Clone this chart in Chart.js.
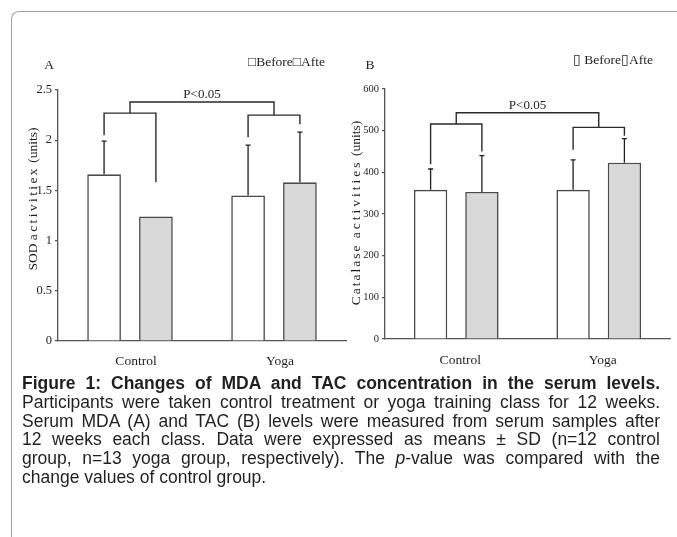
<!DOCTYPE html>
<html>
<head>
<meta charset="utf-8">
<script src="https://cdn.jsdelivr.net/npm/chart.js@4.4.1/dist/chart.umd.min.js"></script>
<style>
  html, body { margin: 0; padding: 0; background: #fff; }
  body { width: 677px; height: 537px; position: relative; overflow: hidden; }
  .frame {
    position: absolute; left: 11px; top: 11px; width: 720px; height: 580px;
    border-top: 1.5px solid #a0a0a0; border-left: 1.5px solid #a0a0a0;
    border-top-left-radius: 8px;
  }
  .panel { position: absolute; top: 40px; height: 335px; }
  #panelA { left: 0; width: 350px; }
  #panelB { left: 345px; width: 332px; }
  .caption {
    position: absolute; left: 22px; top: 374px; width: 638px;
    font-family: "Liberation Sans", Arial, sans-serif; font-size: 17.5px;
    line-height: 18.8px; color: #231f20;
  }
  .caption div { text-align: justify; text-align-last: justify; }
  .caption div.last { text-align-last: left; }
  .caption b { font-weight: bold; }
</style>
</head>
<body>
<div class="frame"></div>
<div class="panel" id="panelA"><canvas id="chartA"></canvas></div>
<div class="panel" id="panelB"><canvas id="chartB"></canvas></div>
<div class="caption">
  <div><b>Figure 1: Changes of MDA and TAC concentration in the serum levels.</b></div>
  <div>Participants were taken control treatment or yoga training class for 12 weeks.</div>
  <div>Serum MDA (A) and TAC (B) levels were measured from serum samples after</div>
  <div>12 weeks each class. Data were expressed as means ± SD (n=12 control</div>
  <div>group, n=13 yoga group, respectively). The <i>p</i>-value was compared with the</div>
  <div class="last">change values of control group.</div>
</div>
<script>
// Groups and series
const groups = ['Control', 'Yoga'];
const seriesNames = ['Before', 'After'];

// Panel A: SOD activity (units), means and upper SD
const sodBefore = [1.66, 1.45];
const sodAfter = [1.24, 1.58];
const sodBeforeSD = [0.33, 0.50];
const sodAfterSD = [null, 0.50];
const sodTicks = [0, 0.5, 1, 1.5, 2, 2.5];
// significance brackets: per-group bar level, leg ends (before, after), top link
const sodPairLevels = [2.27, 2.25];
const sodPairLegEnds = [[2.05, 1.58], [2.03, 2.16]];
const sodTopLevel = 2.38;

// Panel B: catalase activity (units), means and upper SD
const catBefore = [358, 358];
const catAfter = [353, 423];
const catBeforeSD = [50, 72];
const catAfterSD = [87, 58];
const catTicks = [0, 100, 200, 300, 400, 500, 600];
const catPairLevels = [516, 508];
const catPairLegEnds = [[420, 450], [454, 488]];
const catTopLevel = 543;

const SERIF = '"Liberation Serif", "Times New Roman", serif';
const INK = '#1f1f1f';
const AXIS = '#555';

// draws a rotated title made of runs, each with its own letter spacing
function drawSpacedRuns(ctx, runs) {
  const hasLS = 'letterSpacing' in ctx;
  const widths = runs.map(([t, ls]) => {
    if (hasLS) ctx.letterSpacing = ls + 'px';
    return ctx.measureText(t).width;
  });
  const total = widths.reduce((a, b) => a + b, 0);
  let x = -total / 2;
  ctx.textAlign = 'left';
  runs.forEach(([t, ls], i) => {
    if (hasLS) ctx.letterSpacing = ls + 'px';
    ctx.fillText(t, x, 0);
    x += widths[i];
  });
  if (hasLS) ctx.letterSpacing = '0px';
}

// Error bars, brackets and panel texts
const overlayPlugin = {
  id: 'overlay',
  afterDatasetsDraw(chart, args, o) {
    const ctx = chart.ctx;
    const ys = chart.scales.y;
    const area = chart.chartArea;
    const metas = [chart.getDatasetMeta(0), chart.getDatasetMeta(1)];
    ctx.save();

    // upper SD whiskers
    ctx.strokeStyle = INK;
    ctx.lineWidth = 1.3;
    chart.data.datasets.forEach((ds, di) => {
      ds.data.forEach((v, gi) => {
        const sd = ds.sd[gi];
        if (sd == null) return;
        const bar = metas[di].data[gi];
        const y0 = ys.getPixelForValue(v);
        const y1 = ys.getPixelForValue(v + sd);
        ctx.beginPath();
        ctx.moveTo(bar.x, y0); ctx.lineTo(bar.x, y1);
        ctx.moveTo(bar.x - 2.5, y1); ctx.lineTo(bar.x + 2.5, y1);
        ctx.stroke();
      });
    });

    // brackets
    ctx.strokeStyle = '#2a2a2a';
    ctx.lineWidth = 1.4;
    const mids = [];
    o.pairLevels.forEach((lvl, gi) => {
      const xl = metas[0].data[gi].x, xr = metas[1].data[gi].x;
      const yl = ys.getPixelForValue(lvl);
      ctx.beginPath();
      ctx.moveTo(xl, ys.getPixelForValue(o.legEnds[gi][0]));
      ctx.lineTo(xl, yl);
      ctx.lineTo(xr, yl);
      ctx.lineTo(xr, ys.getPixelForValue(o.legEnds[gi][1]));
      ctx.stroke();
      mids.push({ x: (xl + xr) / 2, y: yl });
    });
    const yt = ys.getPixelForValue(o.topLevel);
    ctx.beginPath();
    ctx.moveTo(mids[0].x, mids[0].y);
    ctx.lineTo(mids[0].x, yt);
    ctx.lineTo(mids[1].x, yt);
    ctx.lineTo(mids[1].x, mids[1].y);
    ctx.stroke();

    ctx.fillStyle = INK;
    ctx.font = '13px ' + SERIF;
    ctx.textAlign = 'center';
    ctx.textBaseline = 'alphabetic';
    ctx.fillText('P<0.05', (mids[0].x + mids[1].x) / 2, yt - 4);

    // panel letter
    ctx.font = '13.5px ' + SERIF;
    ctx.textAlign = 'center';
    ctx.textBaseline = 'middle';
    ctx.fillText(o.letter, area.left + o.letterDx, area.top + o.letterDy);

    // series key text
    ctx.textAlign = 'right';
    ctx.fillText(o.keyText, area.right + o.keyDx, area.top + o.keyDy);

    // vertical axis title
    ctx.translate(area.left + o.titleDx, (area.top + area.bottom) / 2 + o.titleDy);
    ctx.rotate(-Math.PI / 2);
    ctx.font = '13.5px ' + SERIF;
    drawSpacedRuns(ctx, o.titleRuns);
    ctx.restore();
  }
};

function makeChart(id, before, after, beforeSD, afterSD, ticks, tickFont, layout, overlay) {
  return new Chart(document.getElementById(id), {
    type: 'bar',
    data: {
      labels: groups,
      datasets: [
        { label: seriesNames[0], data: before, sd: beforeSD,
          backgroundColor: '#ffffff', borderColor: '#4a4a4a', borderWidth: 1.6 },
        { label: seriesNames[1], data: after, sd: afterSD,
          backgroundColor: '#d9d9d9', borderColor: '#4a4a4a', borderWidth: 1.6 }
      ]
    },
    options: {
      responsive: true,
      maintainAspectRatio: false,
      animation: false,
      devicePixelRatio: 1,
      categoryPercentage: 0.72,
      barPercentage: 0.65,
      layout: { padding: layout.padding },
      plugins: {
        legend: { display: false },
        tooltip: { enabled: false },
        overlay: overlay
      },
      scales: {
        x: {
          grid: { display: false },
          border: { display: true, color: AXIS, width: 1.3 },
          ticks: { color: INK, font: { family: SERIF, size: 13.5 }, padding: layout.xPad, labelOffset: layout.xLabelOffset },
          afterFit: s => { s.height = layout.xHeight; }
        },
        y: {
          min: ticks[0],
          max: ticks[ticks.length - 1],
          afterBuildTicks: s => { s.ticks = ticks.map(v => ({ value: v })); },
          grid: { display: true, drawOnChartArea: false, drawTicks: true, tickLength: 3, color: AXIS, lineWidth: 1.2 },
          border: { display: true, color: AXIS, width: 1.3 },
          ticks: { color: INK, font: { family: SERIF, size: tickFont }, padding: 3, callback: v => String(v) },
          afterFit: s => { s.width = layout.yWidth; }
        }
      }
    },
    plugins: [overlayPlugin]
  });
}

makeChart('chartA', sodBefore, sodAfter, sodBeforeSD, sodAfterSD, sodTicks, 12.5,
  { padding: { left: 0, top: 50, right: 4, bottom: 0 }, yWidth: 58, xHeight: 34, xPad: 4, xLabelOffset: 6 },
  { letter: 'A', letterDx: -9, letterDy: -25,
    keyText: '\u25A1Before\u25A1Afte', keyDx: -21, keyDy: -28,
    titleRuns: [['SOD ', 0], ['activitiex', 2.4], [' (units)', 0]], titleDx: -25, titleDy: -16.5,
    pairLevels: sodPairLevels, legEnds: sodPairLegEnds, topLevel: sodTopLevel });

makeChart('chartB', catBefore, catAfter, catBeforeSD, catAfterSD, catTicks, 10.5,
  { padding: { left: 0, top: 49, right: 7, bottom: 0 }, yWidth: 40, xHeight: 36, xPad: 5, xLabelOffset: 4 },
  { letter: 'B', letterDx: -15, letterDy: -24,
    keyText: '\u25AF Before\u25AFAfte', keyDx: -17, keyDy: -29,
    titleRuns: [['Catalase ', 2.0], ['activities', 3.0], [' (units)', 0]], titleDx: -28.6, titleDy: -1,
    pairLevels: catPairLevels, legEnds: catPairLegEnds, topLevel: catTopLevel });
</script>
</body>
</html>
